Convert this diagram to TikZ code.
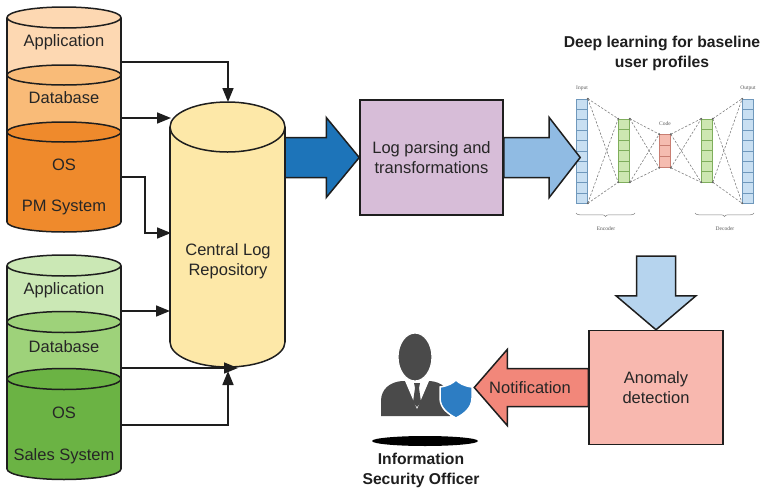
\documentclass[tikz,border=0pt]{standalone}
\usepackage{fontspec}
\setmainfont{Liberation Sans}
\newfontfamily\labelserif{Liberation Serif}
\usetikzlibrary{calc,arrows.meta,decorations.pathreplacing}

\definecolor{ink}{HTML}{1E1E1E}
\definecolor{txt}{HTML}{262626}
\definecolor{oApp}{HTML}{FDD8B2}
\definecolor{oDb}{HTML}{F9BB78}
\definecolor{oOs}{HTML}{EF8A2C}
\definecolor{gApp}{HTML}{CBE8B5}
\definecolor{gDb}{HTML}{9ED27A}
\definecolor{gOs}{HTML}{6BB344}
\definecolor{repo}{HTML}{FDE8A8}
\definecolor{parse}{HTML}{D7BDD8}
\definecolor{anom}{HTML}{F8B8AF}
\definecolor{blueA}{HTML}{1D74B9}
\definecolor{blueB}{HTML}{90BBE3}
\definecolor{blueC}{HTML}{B6D4EE}
\definecolor{notif}{HTML}{F2877A}
\definecolor{person}{HTML}{4A4A4A}
\definecolor{shield}{HTML}{2D7DC3}
\definecolor{nnBlue}{HTML}{C8DFF2}
\definecolor{nnBlueD}{HTML}{6F98BC}
\definecolor{nnGreen}{HTML}{CDE7B1}
\definecolor{nnGreenD}{HTML}{7FAE5C}
\definecolor{nnRed}{HTML}{F5BCB0}
\definecolor{nnRedD}{HTML}{C97E72}

\tikzset{
  outline/.style={draw=ink, line width=1.5pt},
  conn/.style={draw=ink, line width=1.6pt, -{Triangle[length=14pt,width=11pt]}},
  lbl/.style={font=\fontsize{16.5}{20}\selectfont, text=txt, align=center, inner sep=0pt},
  boldlbl/.style={font=\fontsize{15.7}{20}\selectfont\bfseries, text=ink, align=center, inner sep=0pt},
  box/.style={rectangle, outline, inner sep=0pt},
  fat/.style={outline, line join=miter, fill=#1},
  nnlayer/.style 2 args={rectangle, inner sep=0pt, minimum width=11pt, fill=#1, draw=#2, line width=0.6pt},
  nndash/.style={draw=black!50, line width=0.6pt, dash pattern=on 2.4pt off 1.6pt},
  nntext/.style={font=\labelserif\fontsize{5.5}{6}\selectfont, text=black!65, inner sep=0pt},
  nnbrace/.style={draw=black!50, line width=0.5pt, decorate, decoration={brace, mirror, amplitude=3.5pt}}
}

% one section of a stacked cylinder: centre x, x radius, top y, bottom y, y radius, fill
\newcommand\cylpart[6]{%
  \path[outline, fill=#6] (#1,#4) ellipse[x radius=#2, y radius=#5];
  \fill[#6] ({#1-#2},#3) rectangle ({#1+#2},#4);
  \draw[outline] ({#1-#2},#3) -- ({#1-#2},#4) ({#1+#2},#3) -- ({#1+#2},#4);
  \path[outline, fill=#6] (#1,#3) ellipse[x radius=#2, y radius=#5];}

% block arrow from tail to tip: shaft half width, head half width, head length, fill
\newcommand\fatarrow[6]{%
  \coordinate (fa-h) at ($(#2)!#5!(#1)$);
  \path[fat=#6] ($(#1)!#3!90:(#2)$) -- ($(fa-h)!#3!90:(#2)$) -- ($(fa-h)!#4!90:(#2)$)
    -- (#2) -- ($(fa-h)!#4!-90:(#2)$) -- ($(fa-h)!#3!-90:(#2)$) -- ($(#1)!#3!-90:(#2)$) -- cycle;}

\begin{document}
\begin{tikzpicture}[x=1pt, y=-1pt]
\useasboundingbox (0,0) rectangle (761,493);

% ---------- PM system log sources ----------
\cylpart{64}{57}{17.5}{75}{10.5}{oApp}
\cylpart{64}{57}{75}{132}{10}{oDb}
\cylpart{64}{57}{132}{222}{10}{oOs}
\node[lbl] (o-app) at (64,42) {Application};
\node[lbl] (o-db)  at (64,98) {Database};
\node[lbl] (o-os)  at (64,165) {OS};
\node[lbl] (o-sys) at (64,207) {PM System};

% ---------- Sales system log sources ----------
\cylpart{64}{57}{265.5}{322}{10.5}{gApp}
\cylpart{64}{57}{322}{379}{10.5}{gDb}
\cylpart{64}{57}{379}{469}{10.5}{gOs}
\node[lbl] (g-app) at (64,290) {Application};
\node[lbl] (g-db)  at (64,347) {Database};
\node[lbl] (g-os)  at (64,413) {OS};
\node[lbl] (g-sys) at (64,456) {Sales System};

% ---------- central repository ----------
\cylpart{227.5}{57.5}{127}{342}{25}{repo}
\node[lbl] (repo) at (228,261) {Central Log\\Repository};

% attachment points
\coordinate (oapp) at (121,62);
\coordinate (odb)  at (121,118);
\coordinate (oos)  at (121,177);
\coordinate (gapp) at (121,311);
\coordinate (gdb)  at (121,368);
\coordinate (gos)  at (121,425);
\coordinate (repo-top) at (228,102);
\coordinate (repo-w1)  at (171,118);
\coordinate (repo-w2)  at (171,233);
\coordinate (repo-w3)  at (170,311);
\coordinate (repo-s1)  at (238,368);
\coordinate (repo-s2)  at (228,371);

\draw[conn] (oapp) -| (repo-top);
\draw[conn] (odb) -- (repo-w1);
\draw[conn] (oos) -- ++(24,0) |- (repo-w2);
\draw[conn] (gapp) -- (repo-w3);
\draw[conn] (gdb) -- (repo-s1);
\draw[conn] (gos) -| (repo-s2);

% ---------- processing ----------
\node[box, fill=parse, minimum width=143pt, minimum height=115pt] (parse) at (431.5,157.5) {};
\node[lbl] at (parse.center) {Log parsing and\\transformations};

% ---------- autoencoder ----------
\node[boldlbl] (dltitle) at (662,53) {Deep learning for baseline\\user profiles};

\node[nnlayer={nnBlue}{nnBlueD}, minimum height=104pt] (in) at (582,151) {};
\node[nnlayer={nnGreen}{nnGreenD}, minimum height=63pt] (g1) at (624,150.5) {};
\node[nnlayer={nnRed}{nnRedD}, minimum height=33pt] (code) at (665,151) {};
\node[nnlayer={nnGreen}{nnGreenD}, minimum height=63pt] (g2) at (707,150.5) {};
\node[nnlayer={nnBlue}{nnBlueD}, minimum height=104pt] (out) at (748,151) {};

\foreach \n/\k/\c in {in/10/nnBlueD, out/10/nnBlueD, g1/6/nnGreenD, g2/6/nnGreenD, code/3/nnRedD} {
  \pgfmathtruncatemacro\kk{\k-1}
  \foreach \i in {1,...,\kk}
    \draw[\c, line width=0.6pt] ($(\n.north west)!{\i/\k}!(\n.south west)$) -- ($(\n.north east)!{\i/\k}!(\n.south east)$);
}

\foreach \a/\b in {in/g1, g1/code, code/g2, g2/out}
  \foreach \p in {north east, south east}
    \foreach \q in {north west, south west} {
      \draw[nndash] (\a.\p) -- (\b.\q);
      \fill[black!60] (\a.\p) circle (0.9pt) (\b.\q) circle (0.9pt);
    }

\node[nntext] (in-lbl)   at (582,88)  {Input};
\node[nntext] (code-lbl) at (665,124) {Code};
\node[nntext] (out-lbl)  at (748,88)  {Output};
\coordinate (enc-a) at (576,213);
\coordinate (enc-b) at (635,213);
\coordinate (dec-a) at (695,213);
\coordinate (dec-b) at (754,213);
\draw[nnbrace] (enc-a) -- (enc-b);
\draw[nnbrace] (dec-a) -- (dec-b);
\node[nntext] (enc-lbl) at (606,229) {Encoder};
\node[nntext] (dec-lbl) at (725,229) {Decoder};

% ---------- detection ----------
\node[box, fill=anom, minimum width=134pt, minimum height=114pt] (anom) at (656,387.5) {};
\node[lbl] at (anom.center) {Anomaly\\detection};

% ---------- officer ----------
\fill[black] (425,441) ellipse[x radius=53, y radius=5];
\fill[person] (381,416) -- (381,401) .. controls (381,389) and (390,382) .. (402,381)
  -- (430,381) .. controls (442,382) and (450,389) .. (450,401) -- (450,416) -- cycle;
\fill[white] (405,381) -- (417,409) -- (429,381) -- cycle;
\fill[person] (414,383) -- (420,383) -- (419,388) -- (421,402) -- (417,407) -- (413,402) -- (415,388) -- cycle;
\path[fill=person, draw=white, line width=1.2pt] (415,357) ellipse[x radius=17, y radius=24];
\path[fill=shield, draw=white, line width=1.5pt]
  (440,387) .. controls (448,386) and (453,383) .. (456,380)
  .. controls (459,383) and (464,386) .. (472,387) -- (472,398)
  .. controls (472,408) and (464,414) .. (456,418)
  .. controls (448,414) and (440,408) .. (440,398) -- cycle;
\node[boldlbl] (officer) at (421,470) {Information\\Security Officer};

% ---------- block arrows ----------
\coordinate (repo-e)  at (285,157.5);
\coordinate (in-tip)  at ($(in.west |- parse.east)+(4,0)$);
\coordinate (dn-tail) at (656,256);
\coordinate (officer-in) at ($(anom.west)+(-114,0)$);
\fatarrow{repo-e}{parse.west}{20pt}{40pt}{33pt}{blueA}
\fatarrow{parse.east}{in-tip}{20pt}{40pt}{31pt}{blueB}
\fatarrow{dn-tail}{anom.north}{19.5pt}{40pt}{34pt}{blueC}
\fatarrow{anom.west}{officer-in}{19pt}{38pt}{33pt}{notif}
\node[lbl] (notif) at (530,387.5) {Notification};
\end{tikzpicture}
\end{document}
